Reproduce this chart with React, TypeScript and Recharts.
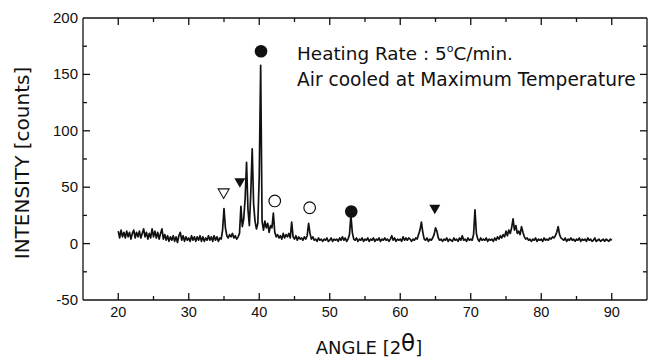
import React from "react";
import { ComposedChart, Line, Scatter, XAxis, YAxis } from "recharts";

// XRD scan, 20–90 deg 2θ, one reading every 0.2 deg (five per row, one row per degree)
const scanStart = 20;
const scanStep = 0.2;
const intensityByDegree: number[][] = [
  [11, 5, 12, 6, 10], [5, 11, 6, 10, 4], [9, 12, 5, 10, 6], [11, 5, 9, 13, 6], [10, 4, 9, 5, 13], // 20-24
  [6, 11, 5, 10, 4], [9, 13, 4, 8, 3], [7, 2, 6, 3, 7], [2, 6, 1, 7, 10], [3, 7, 2, 6, 3], // 25-29
  [5, 2, 7, 3, 6], [2, 6, 3, 7, 2], [6, 2, 5, 3, 7], [3, 6, 2, 7, 3], [6, 2, 5, 4, 12], // 30-34
  [31, 14, 7, 5, 8], [6, 9, 5, 7, 4], [6, 9, 33, 15, 22], [40, 72, 30, 16, 45], [84, 35, 20, 13, 18], // 35-39
  [60, 158, 20, 12, 20], [14, 18, 10, 16, 14], [27, 10, 6, 8, 5], [7, 4, 9, 5, 8], [6, 9, 5, 19, 6], // 40-44
  [4, 7, 3, 6, 4], [5, 3, 6, 4, 7], [18, 9, 4, 6, 3], [4, 2, 5, 3, 4], [2, 4, 3, 5, 2], // 45-49
  [3, 5, 2, 4, 3], [4, 2, 5, 3, 6], [3, 5, 2, 4, 8], [25, 10, 4, 3, 5], [2, 4, 3, 5, 2], // 50-54
  [4, 3, 5, 2, 4], [3, 5, 2, 4, 3], [5, 2, 4, 3, 5], [3, 4, 2, 4, 7], [3, 5, 2, 4, 3], // 55-59
  [4, 2, 6, 3, 5], [3, 5, 4, 2, 4], [3, 5, 4, 8, 12], [19, 10, 4, 3, 5], [2, 4, 3, 5, 8], // 60-64
  [14, 11, 5, 3, 4], [2, 4, 3, 5, 2], [4, 3, 2, 5, 3], [4, 2, 5, 3, 7], [3, 4, 2, 5, 3], // 65-69
  [4, 3, 8, 30, 9], [4, 2, 5, 3, 4], [3, 5, 2, 4, 3], [4, 2, 5, 3, 6], [4, 7, 5, 8, 6], // 70-74
  [11, 7, 12, 9, 14], [22, 12, 16, 9, 11], [8, 15, 10, 6, 4], [5, 3, 4, 2, 4], [3, 5, 2, 4, 3], // 75-79
  [4, 2, 5, 3, 4], [3, 5, 4, 6, 5], [7, 10, 15, 8, 5], [4, 3, 5, 2, 4], [3, 5, 3, 4, 2], // 80-84
  [4, 3, 5, 2, 4], [3, 4, 2, 5, 3], [4, 2, 3, 5, 2], [3, 4, 2, 3, 4], [2, 4, 3, 2, 4], // 85-89
  [3], // 90
];

// phase markers above the peaks
const markerAngles = [34.95, 37.25, 40.25, 42.2, 47.15, 53.05, 64.9];
const markerHeights = [44.5, 54, 170.5, 37.8, 31.8, 28.5, 30.5];
const markerKinds = ["triOpen", "tri", "dot", "ring", "ring", "dot", "tri"];

const xTicks = [20, 25, 30, 35, 40, 45, 50, 55, 60, 65, 70, 75, 80, 85, 90];
const yTicks = [-25, 0, 25, 50, 75, 100, 125, 150, 175];
const yLabelTicks = [-50, 0, 50, 100, 150, 200];

const scan = intensityByDegree.flat().map((v, i) => ({
  angle: +(scanStart + i * scanStep).toFixed(1),
  intensity: v,
}));
const markers = markerAngles.map((a, i) => ({ angle: a, intensity: markerHeights[i], kind: markerKinds[i] }));

const ink = "#111";
const tickFont = "'Liberation Sans', Arial, sans-serif";
const titleFont = "'DejaVu Sans', sans-serif";

const BottomTick = ({ x, y, payload }: any) => {
  const major = payload.value % 10 === 0;
  return (
    <g>
      <line x1={x} x2={x} y1={y} y2={y - (major ? 7 : 4)} stroke={ink} strokeWidth={1.3} />
      {major && (
        <text x={x} y={y + 17} textAnchor="middle" fontSize={14.5} fontFamily={tickFont} fill={ink}>
          {payload.value}
        </text>
      )}
    </g>
  );
};

const TopTick = ({ x, y, payload }: any) => {
  const major = payload.value % 10 === 0;
  return <line x1={x} x2={x} y1={y} y2={y + (major ? 7 : 4)} stroke={ink} strokeWidth={1.3} />;
};

const LeftTick = ({ x, y, payload }: any) => {
  const v = payload.value;
  const major = v % 50 === 0;
  return (
    <g>
      {v !== -50 && v !== 200 && (
        <line x1={x} x2={x + (major ? 7 : 4)} y1={y} y2={y} stroke={ink} strokeWidth={1.3} />
      )}
      {yLabelTicks.includes(v) && (
        <text x={x - 5} y={y + 5} textAnchor="end" fontSize={15} fontFamily={tickFont} fill={ink}>
          {v}
        </text>
      )}
    </g>
  );
};

const RightTick = ({ x, y, payload }: any) => {
  const major = payload.value % 50 === 0;
  return <line x1={x} x2={x - (major ? 7 : 4)} y1={y} y2={y} stroke={ink} strokeWidth={1.3} />;
};

const MarkerShape = ({ cx, cy, payload }: any) => {
  if (cx == null || cy == null) return null;
  const k = payload.kind;
  if (k === "dot") return <circle cx={cx} cy={cy} r={6.3} fill={ink} />;
  if (k === "ring") return <circle cx={cx} cy={cy} r={5.8} fill="#fff" stroke={ink} strokeWidth={1.2} />;
  const pts = `${cx - 5.5},${cy - 4.5} ${cx + 5.5},${cy - 4.5} ${cx},${cy + 5}`;
  if (k === "tri") return <polygon points={pts} fill={ink} />;
  return <polygon points={pts} fill="#fff" stroke={ink} strokeWidth={1.1} />;
};

const YTitle = () => {
  const cx = 22;
  const cy = 163;
  return (
    <text
      x={cx}
      y={cy}
      transform={`rotate(-90 ${cx} ${cy})`}
      textAnchor="middle"
      dominantBaseline="central"
      fontSize={20}
      fontFamily={titleFont}
      fill={ink}
    >
      INTENSITY [counts]
    </text>
  );
};

const XTitle = ({ viewBox }: any) => {
  const cx = 369;
  const by = viewBox.y + 54;
  return (
    <text x={cx} y={by} textAnchor="middle" fontSize={18} fontFamily={titleFont} fill={ink}>
      ANGLE [2
      <tspan fontSize={23} dy={-3}>θ</tspan>
      <tspan dy={3}>]</tspan>
    </text>
  );
};

const NoDot = () => null;

export default function App() {
  return (
    <div style={{ position: "absolute", left: 0, top: 0, width: 652, height: 362, background: "#fff" }}>
      <ComposedChart width={652} height={362} margin={{ top: 17, right: 4, bottom: 0, left: 0 }}>
        <XAxis
          dataKey="angle"
          type="number"
          domain={[15, 95]}
          ticks={xTicks}
          interval={0}
          height={62}
          tickSize={0}
          tickMargin={0}
          tickLine={false}
          tick={<BottomTick />}
          axisLine={{ stroke: ink, strokeWidth: 1.3 }}
          label={<XTitle />}
        />
        <XAxis
          xAxisId="top"
          dataKey="angle"
          orientation="top"
          type="number"
          domain={[15, 95]}
          ticks={xTicks}
          interval={0}
          height={1}
          tickSize={0}
          tickMargin={0}
          tickLine={false}
          tick={<TopTick />}
          axisLine={{ stroke: ink, strokeWidth: 1.3 }}
        />
        <YAxis
          dataKey="intensity"
          type="number"
          domain={[-50, 200]}
          ticks={[-50, ...yTicks, 200]}
          interval={0}
          width={83}
          tickSize={0}
          tickMargin={0}
          tickLine={false}
          tick={<LeftTick />}
          axisLine={{ stroke: ink, strokeWidth: 1.3 }}
          label={<YTitle />}
        />
        <YAxis
          yAxisId="right"
          dataKey="intensity"
          orientation="right"
          type="number"
          domain={[-50, 200]}
          ticks={yTicks}
          interval={0}
          width={1}
          tickSize={0}
          tickMargin={0}
          tickLine={false}
          tick={<RightTick />}
          axisLine={{ stroke: ink, strokeWidth: 1.3 }}
        />
        <Line
          data={scan}
          dataKey="intensity"
          type="linear"
          stroke={ink}
          strokeWidth={1.7}
          strokeLinejoin="round"
          dot={false}
          isAnimationActive={false}
        />
        <Scatter
          data={markers}
          xAxisId="top"
          yAxisId="right"
          dataKey="intensity"
          shape={<NoDot />}
          isAnimationActive={false}
        />
        <Scatter data={markers} dataKey="intensity" shape={<MarkerShape />} isAnimationActive={false} />
      </ComposedChart>
      <svg width={652} height={362} style={{ position: "absolute", left: 0, top: 0, pointerEvents: "none" }}>
        <text x={297} y={60} fontSize={18.4} fontFamily={titleFont} fill={ink}>
          Heating Rate : 5<tspan fontSize={11} dy={-8}>o</tspan>
          <tspan dy={8}>C/min.</tspan>
        </text>
        <text x={297} y={86} fontSize={18.6} fontFamily={titleFont} fill={ink}>
          Air cooled at Maximum Temperature
        </text>
      </svg>
    </div>
  );
}
